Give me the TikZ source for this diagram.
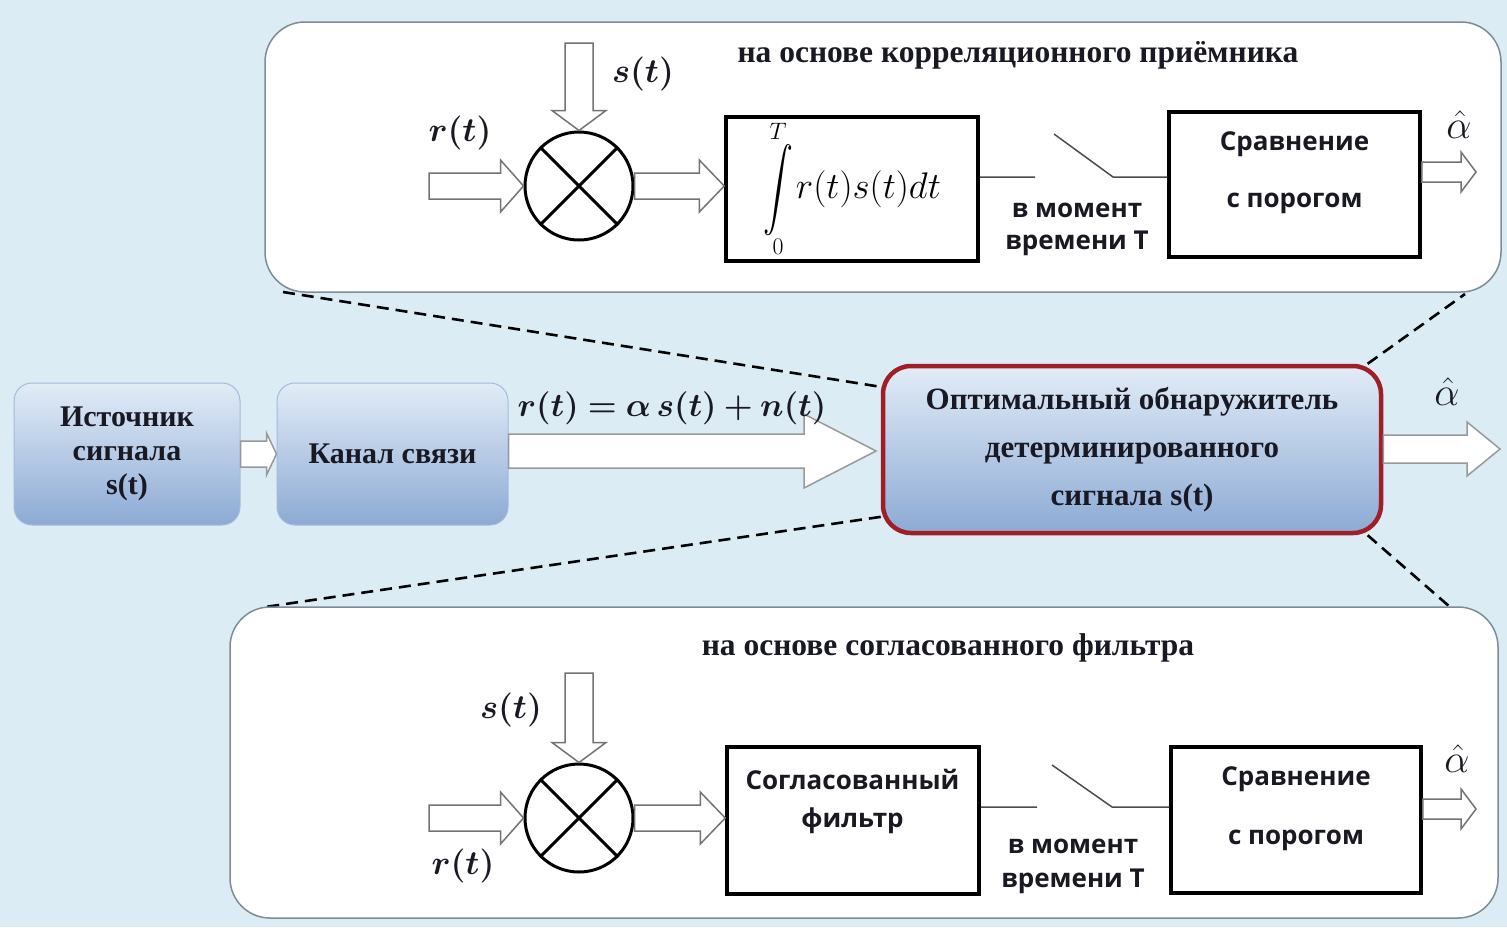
\RequirePackage{fix-cm}
\documentclass[tikz,border=0pt]{standalone}
\usepackage{amsmath,bm}
\usepackage{graphicx}
\usepackage[no-math]{fontspec}
\setmainfont{Liberation Serif}
\newfontfamily\osans{Open Sans}
\usetikzlibrary{calc}

\definecolor{bgblue}{RGB}{220,236,244}
\definecolor{panelline}{RGB}{125,140,150}
\definecolor{boxtop}{RGB}{226,236,247}
\definecolor{boxbot}{RGB}{140,170,212}
\definecolor{mainred}{RGB}{160,30,38}
\definecolor{txt}{RGB}{25,25,35}

% hollow arrow to the right: style, from, to, shaft half width, head half width, head length
\newcommand\hollowR[6]{%
  \path[#1] let \p1=(#2), \p2=(#3) in
    (\x1,\y2+#4) -- (\x2-#6,\y2+#4) -- (\x2-#6,\y2+#5) -- (\x2,\y2) --
    (\x2-#6,\y2-#5) -- (\x2-#6,\y2-#4) -- (\x1,\y2-#4) -- cycle;}
% hollow arrow downwards
\newcommand\hollowD[6]{%
  \path[#1] let \p1=(#2), \p2=(#3) in
    (\x2+#4,\y1) -- (\x2+#4,\y2+#6) -- (\x2+#5,\y2+#6) -- (\x2,\y2) --
    (\x2-#5,\y2+#6) -- (\x2-#4,\y2+#6) -- (\x2-#4,\y1) -- cycle;}
\newcommand\bigintsign{\mathop{\vcenter{\hbox{\scalebox{1.2}[1.65]{$\displaystyle\int$}}}}}

\tikzset{
  panel/.style={rectangle, draw=panelline, line width=1.5pt, fill=white, rounded corners=40pt},
  bluebox/.style={rectangle, rounded corners=18pt, top color=boxtop, bottom color=boxbot,
    draw=boxbot!80!white, line width=1pt, text=txt, align=center,
    font=\fontsize{30}{34}\selectfont\bfseries},
  mainbox/.style={rounded corners=28pt, draw=mainred, line width=4.5pt,
    font=\fontsize{31}{48}\selectfont\bfseries},
  blkbox/.style={rectangle, draw=black, line width=3.5pt, fill=white},
  mixer/.style={circle, draw=black, line width=3pt, fill=white, minimum size=108pt, inner sep=0pt},
  mixcross/.style={line width=3pt},
  harrowp/.style={draw=black!55, line width=1.5pt, fill=white},
  harrowm/.style={draw=black!40, line width=1.5pt, fill=white},
  switchline/.style={draw=black!70, line width=1.5pt},
  dashline/.style={draw=black, line width=2.6pt, dash pattern=on 12pt off 7pt},
  serifttl/.style={text=txt, font=\fontsize{31.5}{36}\selectfont\bfseries},
  sanslbl/.style={text=txt, font={\fontsize{26}{30}\osans\bfseries}},
  mathlbl/.style={text=txt, font=\fontsize{34}{40}\selectfont},
  hatlbl/.style={text=txt, font=\fontsize{40}{44}\selectfont},
}

\begin{document}
\begin{tikzpicture}[x=1pt,y=-1pt]
\useasboundingbox (0,0) rectangle (1507,927);
\fill[bgblue] (0,0) rectangle (1507,927);

% ---------- main row ----------
\node[bluebox, minimum width=226pt, minimum height=142pt] (src) at (127,454)
  {Источник\\сигнала\\s(t)};
\node[bluebox, minimum width=231pt, minimum height=142pt] (chan) at (392.5,454)
  {Канал связи};
\node[bluebox, mainbox, minimum width=498pt, minimum height=167pt] (main) at (1132,449.5)
  {Оптимальный обнаружитель\\детерминированного\\сигнала s(t)};

\coordinate (bigtip) at (876,451);
\coordinate (outtip) at (1500,449);
\hollowR{harrowm}{src.east}{chan.west}{13pt}{21pt}{10pt}
\hollowR{harrowm}{chan.east}{bigtip}{17pt}{37pt}{72pt}
\hollowR{harrowm}{main.east}{outtip}{14pt}{27pt}{33pt}
\node[mathlbl, font=\fontsize{33}{40}\selectfont] (eq) at (672,408) {$\bm{r(t) = \alpha\, s(t) + n(t)}$};
\node[hatlbl] (a0) at (1447,392) {$\hat{\alpha}$};

% ---------- dashed zoom lines ----------
\coordinate (d1) at (283,292);
\coordinate (d2) at (1465,294);
\coordinate (d3) at (1450,607);
\coordinate (d4) at (265,607);
\draw[dashline] (d1) -- (main.166);
\draw[dashline] (main.20) -- (d2);
\draw[dashline] (main.-20) -- (d3);
\draw[dashline] (main.195) -- (d4);

% ---------- panels ----------
\node[panel, minimum width=1236pt, minimum height=270pt] (ptop) at (883,157) {};
\node[panel, minimum width=1268pt, minimum height=311pt] (pbot) at (864,762.5) {};

% ---------- top panel: correlation receiver ----------
\node[serifttl, anchor=base] (ttl1) at (1018,62) {на основе корреляционного приёмника};
\node[mixer] (mix1) at (579,186) {};
\draw[mixcross] (mix1.45) -- (mix1.225) (mix1.135) -- (mix1.315);
\node[blkbox, minimum width=252pt, minimum height=144pt] (intg) at (852,189)
  {{\fontsize{34}{40}\selectfont$\displaystyle\bigintsign\limits_{\scriptstyle 0}^{\scriptstyle T}$}\hspace{3pt}{\fontsize{37}{40}\selectfont$r(t)s(t)dt$}};
\node[blkbox, minimum width=251pt, minimum height=145pt] (cmp1) at (1294.5,184.5) {};
\node[sanslbl, anchor=base] (cmp1a) at (1294.5,150) {Сравнение};
\node[sanslbl, anchor=base] (cmp1b) at (1294.5,207) {с порогом};
\node[sanslbl, anchor=base] (mom1a) at (1077,217) {в момент};
\node[sanslbl, anchor=base] (mom1b) at (1077,249) {времени Т};
\node[mathlbl] (r1) at (460,133) {$\bm{r(t)}$};
\node[mathlbl] (s1) at (643,74) {$\bm{s(t)}$};
\node[hatlbl] (a1) at (1459,125) {$\hat{\alpha}$};
\coordinate (in1) at (429,186);
\coordinate (stop1) at (577,43);
\coordinate (out1) at (1476,172);
\coordinate (swA1) at (1035,177);
\coordinate (swB1) at (1054,134);
\coordinate (swC1) at (1113,177);
\hollowR{harrowp}{in1}{mix1.west}{13pt}{26pt}{23pt}
\hollowR{harrowp}{mix1.east}{mix1.east -| intg.west}{13pt}{26pt}{25pt}
\hollowD{harrowp}{stop1}{mix1.north}{14pt}{27pt}{20pt}
\hollowR{harrowp}{cmp1.east |- out1}{out1}{10pt}{20pt}{15pt}
\draw[switchline] (swA1 -| intg.east) -- (swA1) (swB1) -- (swC1) -- (swC1 -| cmp1.west);

% ---------- bottom panel: matched filter ----------
\node[serifttl, anchor=base] (ttl2) at (948,655) {на основе согласованного фильтра};
\node[mixer] (mix2) at (579,818) {};
\draw[mixcross] (mix2.45) -- (mix2.225) (mix2.135) -- (mix2.315);
\node[blkbox, minimum width=252pt, minimum height=147pt] (filt) at (853,820.5) {};
\node[sanslbl, anchor=base] (filta) at (852.5,789) {Согласованный};
\node[sanslbl, anchor=base] (filtb) at (852.5,827) {фильтр};
\node[blkbox, minimum width=250pt, minimum height=146pt] (cmp2) at (1296,820) {};
\node[sanslbl, anchor=base] (cmp2a) at (1296,785) {Сравнение};
\node[sanslbl, anchor=base] (cmp2b) at (1296,844) {с порогом};
\node[sanslbl, anchor=base] (mom2a) at (1073,853) {в момент};
\node[sanslbl, anchor=base] (mom2b) at (1073,887) {времени Т};
\node[mathlbl] (r2) at (463,866) {$\bm{r(t)}$};
\node[mathlbl] (s2) at (511,710) {$\bm{s(t)}$};
\node[hatlbl] (a2) at (1457,759) {$\hat{\alpha}$};
\coordinate (in2) at (429,817);
\coordinate (stop2) at (577,673);
\coordinate (out2) at (1476,809);
\coordinate (swA2) at (1037,807);
\coordinate (swB2) at (1052,765);
\coordinate (swC2) at (1112,807);
\hollowR{harrowp}{in2}{mix2.west}{13pt}{26pt}{23pt}
\hollowR{harrowp}{mix2.east}{mix2.east -| filt.west}{13pt}{26pt}{25pt}
\hollowD{harrowp}{stop2}{mix2.north}{14pt}{27pt}{20pt}
\hollowR{harrowp}{cmp2.east |- out2}{out2}{10pt}{20pt}{15pt}
\draw[switchline] (swA2 -| filt.east) -- (swA2) (swB2) -- (swC2) -- (swC2 -| cmp2.west);
\end{tikzpicture}
\end{document}
